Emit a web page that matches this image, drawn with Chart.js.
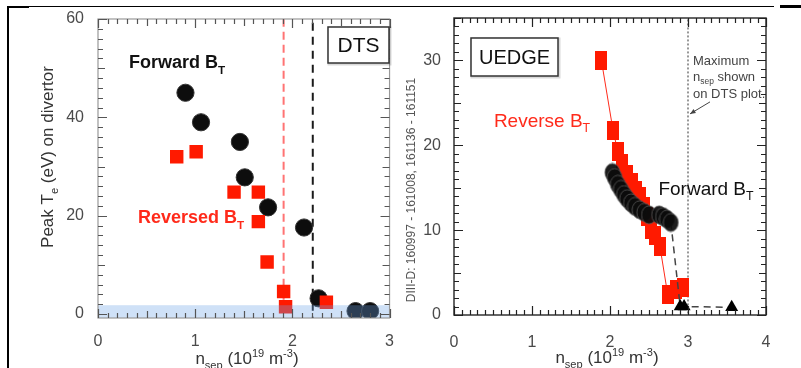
<!DOCTYPE html>
<html><head><meta charset="utf-8">
<script src="https://cdn.jsdelivr.net/npm/chart.js@4.4.1/dist/chart.umd.min.js"></script>
<style>
html,body{margin:0;padding:0;background:#fff;}
body{width:801px;height:368px;position:relative;overflow:hidden;}
canvas{position:absolute;top:0;}
#c1{left:0;}
#c2{left:400px;}
.ln{position:absolute;background:#000;z-index:5;}
</style></head><body>
<canvas id="c1" width="400" height="368"></canvas>
<canvas id="c2" width="401" height="368"></canvas>
<div class="ln" style="left:7px;top:6px;width:2px;height:362px"></div>
<div class="ln" style="left:8px;top:6px;width:766px;height:1px"></div>
<div class="ln" style="left:8px;top:6px;width:21px;height:2px"></div>
<div class="ln" style="left:780px;top:5px;width:21px;height:3px"></div>
<script>
// ---------- DATA ----------
// Left panel (DTS)
const dtsXTicks = [0, 1, 2, 3];
const dtsYTicks = [0, 20, 40, 60];
const dtsFwdX = [0.90, 1.06, 1.46, 1.51, 1.75, 2.12, 2.27, 2.65, 2.80];
const dtsFwdY = [45, 39, 35, 27.8, 21.7, 17.6, 3.2, 0.6, 0.6];
const dtsRevX = [0.81, 1.01, 1.40, 1.65, 1.65, 1.74, 1.91, 1.93, 2.35];
const dtsRevY = [32, 33, 24.8, 24.8, 18.8, 10.6, 4.6, 1.5, 2.4];
const dtsRevLimit = 1.91;   // red dashed line
const dtsFwdLimit = 2.21;   // black dashed line
const dtsBandTop = 1.8;     // shaded band upper edge
// Right panel (UEDGE)
const ueXTicks = [0, 1, 2, 3, 4];
const ueYTicks = [0, 10, 20, 30];
const ueRevX = [1.89, 2.04, 2.10, 2.15, 2.22, 2.28, 2.33, 2.38, 2.43, 2.47, 2.53, 2.58, 2.64, 2.74, 2.84, 2.93];
const ueRevY = [30.0, 21.7, 19.3, 17.8, 16.6, 15.6, 14.7, 14.0, 12.8, 11.6, 10.1, 9.4, 8.1, 2.4, 3.0, 3.2];
const ueFwdX = [2.03, 2.06, 2.10, 2.14, 2.18, 2.22, 2.27, 2.32, 2.38, 2.44, 2.50, 2.63, 2.68, 2.73, 2.78];
const ueFwdY = [16.8, 16.2, 15.4, 14.8, 14.2, 13.7, 13.2, 12.8, 12.4, 12.1, 11.8, 11.8, 11.6, 11.3, 10.9];
const ueTailX = [2.78, 2.90, 2.95, 3.56];
const ueTailY = [10.9, 1.0, 1.0, 0.9];
const ueMaxDts = 3.0;       // dotted vertical line
const ueArrowY = 23.7;

// ---------- HELPERS ----------
const FONT = '"Liberation Sans", Arial, Helvetica, sans-serif';
function pts(xs, ys){ return xs.map((x,i)=>({x:x, y:ys[i]})); }
function rich(ctx, segs, x, y, o){
  const size=o.size, w=o.weight||'normal';
  const parts = segs.map(s=>{
    const fs = (s.sub||s.sup) ? size*0.65 : size;
    ctx.font = w+' '+fs+'px '+FONT;
    return {t:s.t, fs:fs, dy: s.sub ? size*0.28 : (s.sup ? -size*0.4 : 0), w: ctx.measureText(s.t).width};
  });
  const total = parts.reduce((a,p)=>a+p.w,0);
  ctx.save(); ctx.translate(x,y); if(o.rot) ctx.rotate(o.rot);
  let cx = o.align==='left' ? 0 : -total/2;
  ctx.fillStyle=o.color||'#000'; ctx.textBaseline='alphabetic'; ctx.textAlign='left';
  const base = size*0.36;
  parts.forEach(p=>{ ctx.font=w+' '+p.fs+'px '+FONT; ctx.fillText(p.t, cx, base+p.dy); cx+=p.w; });
  ctx.restore();
}
function frameTicks(chart, c){
  const ctx=chart.ctx, a=chart.chartArea, sx=chart.scales.x, sy=chart.scales.y;
  ctx.save();
  ctx.setLineDash([]);
  ctx.lineWidth=c.bw; ctx.strokeStyle=c.bcolor;
  ctx.strokeRect(a.left,a.top,a.right-a.left,a.bottom-a.top);
  ctx.strokeStyle=c.color; ctx.lineWidth=1.2;
  ctx.beginPath();
  for(let k=0;k<=c.xN;k++){
    const v=k*c.xStep, px=Math.round(sx.getPixelForValue(v))+0.5;
    const L = (k%c.xMaj===0)?c.maj:((c.xMid && k%c.xMid===0)?c.mid:c.mn);
    ctx.moveTo(px,a.bottom); ctx.lineTo(px,a.bottom-L);
    ctx.moveTo(px,a.top); ctx.lineTo(px,a.top+L);
  }
  for(let k=0;k<=c.yN;k++){
    const v=c.y0+k*c.yStep, py=Math.round(sy.getPixelForValue(v))+0.5;
    const L = (k%c.yMaj===0)?c.maj:((c.yMid && k%c.yMid===0)?c.mid:c.mn);
    ctx.moveTo(a.left,py); ctx.lineTo(a.left+L,py);
    ctx.moveTo(a.right,py); ctx.lineTo(a.right-L,py);
  }
  ctx.stroke();
  ctx.restore();
}
function box(ctx, x, y, w, h, text, size){
  ctx.save();
  ctx.strokeStyle='rgba(0,0,0,0.15)'; ctx.lineWidth=3; ctx.strokeRect(x+1,y+1,w,h);
  ctx.strokeStyle='#333'; ctx.lineWidth=1.5; ctx.fillStyle='#fff';
  ctx.fillRect(x,y,w,h); ctx.strokeRect(x,y,w,h);
  ctx.fillStyle='#111'; ctx.font=size+'px '+FONT; ctx.textAlign='center'; ctx.textBaseline='middle';
  ctx.fillText(text, x+w/2, y+h/2+1);
  ctx.restore();
}
// custom marker images
function rectImg(w,h,color){ const c=document.createElement('canvas'); c.width=w; c.height=h; const g=c.getContext('2d'); g.fillStyle=color; g.fillRect(0,0,w,h); return c; }
function ellImg(w,h){ const c=document.createElement('canvas'); c.width=w+2; c.height=h+2; const g=c.getContext('2d');
  g.beginPath(); g.ellipse((w+2)/2,(h+2)/2,w/2,h/2,0,0,Math.PI*2); g.fillStyle='rgba(12,12,12,0.93)'; g.fill();
  g.strokeStyle='rgba(90,90,90,0.8)'; g.lineWidth=1; g.stroke(); return c; }
const ueSquare = rectImg(12, 19, '#ff1a00');
const ueCircle = ellImg(15, 18);

const tickFont = {family: FONT, size: 16};
Chart.defaults.font.family = FONT;

// ---------- LEFT CHART (DTS) ----------
new Chart(document.getElementById('c1'), {
  type: 'scatter',
  data: { datasets: [
    { data: pts(dtsRevX, dtsRevY), pointStyle:'rect', pointRadius:9.5, backgroundColor:'#ff1a00', borderColor:'#ff1a00', borderWidth:0 },
    { data: pts(dtsFwdX, dtsFwdY), pointStyle:'circle', pointRadius:8.6, backgroundColor:'#0d0d0d', borderColor:'#333', borderWidth:1 },
    { data: [{x:dtsRevLimit,y:-5},{x:dtsRevLimit,y:70}], showLine:true, pointRadius:0, borderColor:'rgba(255,90,90,0.85)', borderWidth:2, borderDash:[8,5] },
    { data: [{x:dtsFwdLimit,y:-5},{x:dtsFwdLimit,y:70}], showLine:true, pointRadius:0, borderColor:'#1a1a1a', borderWidth:2, borderDash:[8,6] }
  ]},
  options: {
    responsive:false, animation:false,
    layout:{padding:{top:19, right:3, left:0, bottom:0}},
    plugins:{legend:{display:false}, tooltip:{enabled:false}},
    scales:{
      x:{type:'linear', min:0, max:3, grid:{display:false}, border:{display:false},
         afterBuildTicks:s=>{ s.ticks = dtsXTicks.map(v=>({value:v})); },
         afterFit:s=>{ s.height = 50; },
         ticks:{padding:6, color:'#4a4a4a', font:tickFont, maxRotation:0}},
      y:{type:'linear', min:-0.8, max:60, grid:{display:false}, border:{display:false},
         afterBuildTicks:s=>{ s.ticks = dtsYTicks.map(v=>({value:v})); },
         afterFit:s=>{ s.width = 98; },
         ticks:{padding:6, color:'#4a4a4a', font:tickFont}}
    }
  },
  plugins:[{
    id:'dtsDeco',
    afterDatasetsDraw(chart){
      const ctx=chart.ctx, a=chart.chartArea, sy=chart.scales.y;
      const top=sy.getPixelForValue(dtsBandTop);
      ctx.save(); ctx.fillStyle='rgba(110,165,230,0.33)';
      ctx.fillRect(a.left, top, a.right-a.left, a.bottom-top); ctx.restore();
    },
    afterDraw(chart){
      const ctx=chart.ctx;
      frameTicks(chart,{color:'#555', bcolor:'#999', bw:1.2, xStep:0.1, xN:30, xMaj:10, xMid:5, y0:0, yStep:2, yN:30, yMaj:10, yMid:5, maj:9, mid:7, mn:5});
      box(ctx, 328, 27, 61, 36, 'DTS', 21);
      rich(ctx, [{t:'Forward B'},{t:'T',sub:true}], 177, 62, {size:18, weight:'bold', color:'#111'});
      rich(ctx, [{t:'Reversed B'},{t:'T',sub:true}], 191, 217, {size:18, weight:'bold', color:'#ff2a1a'});
      rich(ctx, [{t:'Peak T'},{t:'e',sub:true},{t:' (eV) on divertor'}], 47, 157, {size:17, color:'#333', rot:-Math.PI/2});
      rich(ctx, [{t:'n'},{t:'sep',sub:true},{t:' (10'},{t:'19',sup:true},{t:' m'},{t:'-3',sup:true},{t:')'}], 247, 358, {size:17, color:'#333'});
    }
  }]
});

// ---------- RIGHT CHART (UEDGE) ----------
new Chart(document.getElementById('c2'), {
  type: 'scatter',
  data: { datasets: [
    { data: pts(ueFwdX, ueFwdY), pointStyle: ueCircle, pointRadius:8 },
    { data: pts(ueTailX, ueTailY), showLine:true, borderColor:'#444', borderWidth:1.5, borderDash:[7,5],
      pointStyle:'triangle', pointRadius:[0,7.5,7.5,7.5], backgroundColor:'#000', pointBorderColor:'#000', pointBorderWidth:0 },
    { data: pts(ueRevX, ueRevY), showLine:true, borderColor:'#ff2a1a', borderWidth:1, pointStyle: ueSquare, pointRadius:9 },
    { data: [{x:ueMaxDts,y:-5},{x:ueMaxDts,y:40}], showLine:true, pointRadius:0, borderColor:'#333', borderWidth:1, borderDash:[2,2] }
  ]},
  options: {
    responsive:false, animation:false,
    layout:{padding:{top:18, right:35, left:0, bottom:0}},
    plugins:{legend:{display:false}, tooltip:{enabled:false}},
    scales:{
      x:{type:'linear', min:0, max:4, grid:{display:false}, border:{display:false},
         afterBuildTicks:s=>{ s.ticks = ueXTicks.map(v=>({value:v})); },
         afterFit:s=>{ s.height = 53; },
         ticks:{padding:10, color:'#4a4a4a', font:tickFont, maxRotation:0}},
      y:{type:'linear', min:0, max:35, grid:{display:false}, border:{display:false},
         afterBuildTicks:s=>{ s.ticks = ueYTicks.map(v=>({value:v})); },
         afterFit:s=>{ s.width = 54; },
         ticks:{padding:5, color:'#4a4a4a', font:tickFont}}
    }
  },
  plugins:[{
    id:'ueDeco',
    afterDraw(chart){
      const ctx=chart.ctx, sx=chart.scales.x, sy=chart.scales.y;
      frameTicks(chart,{color:'#222', bcolor:'#333', bw:1.5, xStep:0.1, xN:40, xMaj:10, xMid:0, y0:0, yStep:1, yN:35, yMaj:10, yMid:5, maj:9, mid:7, mn:5});
      box(ctx, 71, 38, 87, 38, 'UEDGE', 20);
      rich(ctx, [{t:'Reverse B'},{t:'T',sub:true}], 142, 120, {size:19, color:'#ff2a1a'});
      rich(ctx, [{t:'Forward B'},{t:'T',sub:true}], 306, 188, {size:19, color:'#111'});
      rich(ctx, [{t:'n'},{t:'sep',sub:true},{t:' (10'},{t:'19',sup:true},{t:' m'},{t:'-3',sup:true},{t:')'}], 207, 357, {size:17, color:'#333'});
      rich(ctx, [{t:'DIII-D: 160997 - 161008, 161136 - 161151'}], 11, 190, {size:12, color:'#555', rot:-Math.PI/2});
      rich(ctx, [{t:'Maximum'}], 293, 60, {size:13, color:'#444', align:'left'});
      rich(ctx, [{t:'n'},{t:'sep',sub:true},{t:' shown'}], 293, 76, {size:13, color:'#444', align:'left'});
      rich(ctx, [{t:'on DTS plot.'}], 293, 93, {size:13, color:'#444', align:'left'});
      const ax=sx.getPixelForValue(ueMaxDts)+2, ay=sy.getPixelForValue(ueArrowY);
      const bx=ax+20, by=ay-12;
      ctx.save(); ctx.strokeStyle='#444'; ctx.fillStyle='#444'; ctx.lineWidth=1;
      ctx.beginPath(); ctx.moveTo(bx,by); ctx.lineTo(ax,ay); ctx.stroke();
      const ang=Math.atan2(ay-by, ax-bx);
      ctx.beginPath(); ctx.moveTo(ax,ay);
      ctx.lineTo(ax-6*Math.cos(ang-0.4), ay-6*Math.sin(ang-0.4));
      ctx.lineTo(ax-6*Math.cos(ang+0.4), ay-6*Math.sin(ang+0.4));
      ctx.closePath(); ctx.fill(); ctx.restore();
    }
  }]
});
</script>
</body></html>
